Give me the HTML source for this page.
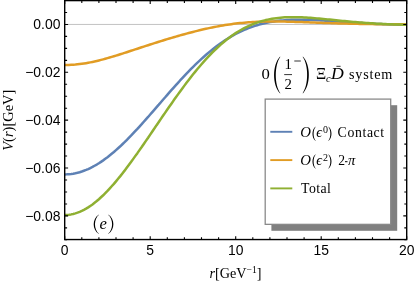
<!DOCTYPE html>
<html><head><meta charset="utf-8">
<style>
html,body{margin:0;padding:0;background:#fff;}
body{width:415px;height:285px;overflow:hidden;position:relative;}
svg{will-change:transform;position:absolute;left:0;top:0;display:block;}
.sans text{font-family:"Liberation Sans",sans-serif;font-size:13.9px;fill:#000;}
.serif{font-family:"Liberation Serif",serif;fill:#000;}
</style></head>
<body>
<svg width="415" height="285" viewBox="0 0 415 285">
<rect x="0" y="0" width="415" height="285" fill="#fff"/>
<!-- zero gridline -->
<line x1="64.7" y1="24.45" x2="406.7" y2="24.45" stroke="#a8a8a8" stroke-width="0.7"/>
<!-- curves -->
<g fill="none" stroke-width="2.5" stroke-linejoin="round" stroke-linecap="butt">
<path d="M64.7,174.39 L66.8,174.34 L69.0,174.21 L71.1,173.98 L73.2,173.67 L75.4,173.27 L77.5,172.78 L79.7,172.20 L81.8,171.53 L83.9,170.78 L86.1,169.95 L88.2,169.03 L90.3,168.03 L92.5,166.95 L94.6,165.78 L96.8,164.54 L98.9,163.23 L101.0,161.84 L103.2,160.37 L105.3,158.84 L107.5,157.23 L109.6,155.56 L111.7,153.83 L113.9,152.03 L116.0,150.17 L118.1,148.26 L120.3,146.29 L122.4,144.27 L124.6,142.20 L126.7,140.08 L128.8,137.92 L131.0,135.71 L133.1,133.47 L135.2,131.20 L137.4,128.89 L139.5,126.55 L141.7,124.18 L143.8,121.79 L145.9,119.39 L148.1,116.96 L150.2,114.52 L152.3,112.07 L154.5,109.60 L156.6,107.14 L158.8,104.67 L160.9,102.20 L163.0,99.73 L165.2,97.28 L167.3,94.83 L169.4,92.39 L171.6,89.96 L173.7,87.56 L175.9,85.17 L178.0,82.80 L180.1,80.46 L182.3,78.15 L184.4,75.87 L186.5,73.61 L188.7,71.39 L190.8,69.21 L192.9,67.07 L195.1,64.96 L197.2,62.89 L199.4,60.87 L201.5,58.89 L203.6,56.96 L205.8,55.07 L207.9,53.23 L210.1,51.44 L212.2,49.70 L214.3,48.01 L216.5,46.37 L218.6,44.79 L220.7,43.25 L222.9,41.77 L225.0,40.34 L227.1,38.97 L229.3,37.65 L231.4,36.38 L233.6,35.17 L235.7,34.01 L237.8,32.90 L240.0,31.84 L242.1,30.84 L244.2,29.88 L246.4,28.98 L248.5,28.13 L250.7,27.32 L252.8,26.57 L254.9,25.86 L257.1,25.20 L259.2,24.58 L261.4,24.00 L263.5,23.47 L265.6,22.98 L267.8,22.53 L269.9,22.12 L272.0,21.75 L274.2,21.41 L276.3,21.11 L278.4,20.84 L280.6,20.60 L282.7,20.40 L284.9,20.22 L287.0,20.07 L289.1,19.95 L291.3,19.85 L293.4,19.78 L295.6,19.73 L297.7,19.70 L299.8,19.69 L302.0,19.70 L304.1,19.72 L306.2,19.76 L308.4,19.82 L310.5,19.89 L312.6,19.97 L314.8,20.06 L316.9,20.17 L319.1,20.28 L321.2,20.40 L323.3,20.52 L325.5,20.65 L327.6,20.79 L329.8,20.93 L331.9,21.08 L334.0,21.23 L336.2,21.38 L338.3,21.53 L340.4,21.68 L342.6,21.83 L344.7,21.98 L346.8,22.13 L349.0,22.28 L351.1,22.43 L353.3,22.57 L355.4,22.71 L357.5,22.85 L359.7,22.99 L361.8,23.12 L363.9,23.24 L366.1,23.37 L368.2,23.49 L370.4,23.60 L372.5,23.71 L374.6,23.82 L376.8,23.92 L378.9,24.02 L381.1,24.11 L383.2,24.19 L385.3,24.28 L387.5,24.35 L389.6,24.43 L391.7,24.50 L393.9,24.56 L396.0,24.62 L398.1,24.67 L400.3,24.72 L402.4,24.77 L404.6,24.81 L406.7,24.85" stroke="#5e81b5"/>
<path d="M64.7,65.04 L66.8,65.02 L69.0,64.96 L71.1,64.86 L73.2,64.73 L75.4,64.56 L77.5,64.35 L79.7,64.10 L81.8,63.82 L83.9,63.50 L86.1,63.15 L88.2,62.77 L90.3,62.36 L92.5,61.92 L94.6,61.46 L96.8,60.96 L98.9,60.44 L101.0,59.90 L103.2,59.34 L105.3,58.76 L107.5,58.16 L109.6,57.54 L111.7,56.91 L113.9,56.27 L116.0,55.61 L118.1,54.95 L120.3,54.27 L122.4,53.59 L124.6,52.90 L126.7,52.21 L128.8,51.51 L131.0,50.81 L133.1,50.11 L135.2,49.41 L137.4,48.70 L139.5,48.00 L141.7,47.30 L143.8,46.60 L145.9,45.91 L148.1,45.21 L150.2,44.52 L152.3,43.84 L154.5,43.15 L156.6,42.48 L158.8,41.80 L160.9,41.14 L163.0,40.47 L165.2,39.82 L167.3,39.17 L169.4,38.52 L171.6,37.89 L173.7,37.25 L175.9,36.63 L178.0,36.01 L180.1,35.40 L182.3,34.80 L184.4,34.21 L186.5,33.62 L188.7,33.05 L190.8,32.48 L192.9,31.93 L195.1,31.38 L197.2,30.85 L199.4,30.32 L201.5,29.81 L203.6,29.31 L205.8,28.83 L207.9,28.36 L210.1,27.90 L212.2,27.45 L214.3,27.02 L216.5,26.61 L218.6,26.21 L220.7,25.82 L222.9,25.45 L225.0,25.10 L227.1,24.77 L229.3,24.45 L231.4,24.15 L233.6,23.86 L235.7,23.60 L237.8,23.35 L240.0,23.11 L242.1,22.90 L244.2,22.70 L246.4,22.52 L248.5,22.35 L250.7,22.20 L252.8,22.06 L254.9,21.95 L257.1,21.84 L259.2,21.75 L261.4,21.68 L263.5,21.61 L265.6,21.56 L267.8,21.53 L269.9,21.50 L272.0,21.49 L274.2,21.48 L276.3,21.49 L278.4,21.50 L280.6,21.53 L282.7,21.56 L284.9,21.60 L287.0,21.64 L289.1,21.69 L291.3,21.75 L293.4,21.81 L295.6,21.88 L297.7,21.95 L299.8,22.02 L302.0,22.09 L304.1,22.17 L306.2,22.25 L308.4,22.33 L310.5,22.41 L312.6,22.49 L314.8,22.57 L316.9,22.65 L319.1,22.73 L321.2,22.81 L323.3,22.89 L325.5,22.97 L327.6,23.04 L329.8,23.11 L331.9,23.19 L334.0,23.26 L336.2,23.32 L338.3,23.39 L340.4,23.45 L342.6,23.51 L344.7,23.57 L346.8,23.62 L349.0,23.68 L351.1,23.73 L353.3,23.78 L355.4,23.82 L357.5,23.87 L359.7,23.91 L361.8,23.95 L363.9,23.98 L366.1,24.02 L368.2,24.05 L370.4,24.08 L372.5,24.11 L374.6,24.14 L376.8,24.16 L378.9,24.19 L381.1,24.21 L383.2,24.23 L385.3,24.25 L387.5,24.26 L389.6,24.28 L391.7,24.29 L393.9,24.31 L396.0,24.32 L398.1,24.33 L400.3,24.34 L402.4,24.35 L404.6,24.36 L406.7,24.37" stroke="#e19c24"/>
<path d="M64.7,214.97 L66.8,214.91 L69.0,214.72 L71.1,214.40 L73.2,213.95 L75.4,213.37 L77.5,212.67 L79.7,211.85 L81.8,210.90 L83.9,209.84 L86.1,208.65 L88.2,207.36 L90.3,205.94 L92.5,204.42 L94.6,202.79 L96.8,201.06 L98.9,199.22 L101.0,197.29 L103.2,195.26 L105.3,193.15 L107.5,190.94 L109.6,188.65 L111.7,186.29 L113.9,183.85 L116.0,181.33 L118.1,178.75 L120.3,176.11 L122.4,173.41 L124.6,170.65 L126.7,167.84 L128.8,164.98 L131.0,162.07 L133.1,159.13 L135.2,156.15 L137.4,153.14 L139.5,150.10 L141.7,147.03 L143.8,143.95 L145.9,140.84 L148.1,137.72 L150.2,134.59 L152.3,131.45 L154.5,128.31 L156.6,125.16 L158.8,122.02 L160.9,118.89 L163.0,115.76 L165.2,112.64 L167.3,109.54 L169.4,106.46 L171.6,103.40 L173.7,100.36 L175.9,97.35 L178.0,94.37 L180.1,91.42 L182.3,88.50 L184.4,85.63 L186.5,82.79 L188.7,79.99 L190.8,77.24 L192.9,74.54 L195.1,71.89 L197.2,69.29 L199.4,66.74 L201.5,64.25 L203.6,61.82 L205.8,59.45 L207.9,57.14 L210.1,54.89 L212.2,52.70 L214.3,50.58 L216.5,48.53 L218.6,46.54 L220.7,44.62 L222.9,42.77 L225.0,41.00 L227.1,39.29 L229.3,37.65 L231.4,36.08 L233.6,34.58 L235.7,33.15 L237.8,31.79 L240.0,30.50 L242.1,29.28 L244.2,28.13 L246.4,27.05 L248.5,26.03 L250.7,25.07 L252.8,24.18 L254.9,23.35 L257.1,22.59 L259.2,21.88 L261.4,21.23 L263.5,20.63 L265.6,20.09 L267.8,19.61 L269.9,19.17 L272.0,18.78 L274.2,18.44 L276.3,18.15 L278.4,17.89 L280.6,17.68 L282.7,17.51 L284.9,17.37 L287.0,17.26 L289.1,17.19 L291.3,17.15 L293.4,17.14 L295.6,17.16 L297.7,17.20 L299.8,17.26 L302.0,17.34 L304.1,17.44 L306.2,17.56 L308.4,17.70 L310.5,17.85 L312.6,18.01 L314.8,18.18 L316.9,18.37 L319.1,18.56 L321.2,18.76 L323.3,18.96 L325.5,19.17 L327.6,19.38 L329.8,19.60 L331.9,19.81 L334.0,20.03 L336.2,20.25 L338.3,20.46 L340.4,20.68 L342.6,20.89 L344.7,21.10 L346.8,21.31 L349.0,21.51 L351.1,21.71 L353.3,21.90 L355.4,22.08 L357.5,22.27 L359.7,22.44 L361.8,22.61 L363.9,22.78 L366.1,22.94 L368.2,23.09 L370.4,23.23 L372.5,23.37 L374.6,23.51 L376.8,23.63 L378.9,23.75 L381.1,23.86 L383.2,23.97 L385.3,24.07 L387.5,24.17 L389.6,24.26 L391.7,24.34 L393.9,24.42 L396.0,24.49 L398.1,24.56 L400.3,24.62 L402.4,24.68 L404.6,24.73 L406.7,24.77" stroke="#8fb032"/>
</g>
<!-- legend -->
<rect x="271.4" y="105.2" width="125.8" height="125.6" fill="#808080"/>
<rect x="265.2" y="99.1" width="125.5" height="125.25" fill="#fff" stroke="#8a8a8a" stroke-width="1.3"/>
<g stroke-width="1.9" fill="none">
<line x1="270.3" y1="131.8" x2="292.3" y2="131.8" stroke="#5e81b5"/>
<line x1="270.3" y1="160.1" x2="292.3" y2="160.1" stroke="#e19c24"/>
<line x1="270.3" y1="188.4" x2="292.3" y2="188.4" stroke="#8fb032"/>
</g>
<g class="serif" font-size="13.8">
<text x="300.3" y="137.1" font-style="italic" font-size="14.8">O</text><path d="M315.40,126.80 C311.53,129.88 311.53,137.72 315.40,140.80 L315.80,140.80 C312.87,137.72 312.87,129.88 315.80,126.80 Z" fill="#000"/><text x="316.2" y="137.1" font-style="italic" font-size="14.2">ϵ</text><text x="322.9" y="133.0" font-size="10">0</text><path d="M328.60,126.80 C332.47,129.88 332.47,137.72 328.60,140.80 L328.20,140.80 C331.13,137.72 331.13,129.88 328.20,126.80 Z" fill="#000"/>
<text x="337.6" y="137.1" textLength="46.6" lengthAdjust="spacing">Contact</text>
<text x="300.3" y="164.7" font-style="italic" font-size="14.8">O</text><path d="M315.40,154.40 C311.53,157.48 311.53,165.32 315.40,168.40 L315.80,168.40 C312.87,165.32 312.87,157.48 315.80,154.40 Z" fill="#000"/><text x="316.2" y="164.7" font-style="italic" font-size="14.2">ϵ</text><text x="322.9" y="160.6" font-size="10">2</text><path d="M328.60,154.40 C332.47,157.48 332.47,165.32 328.60,168.40 L328.20,168.40 C331.13,165.32 331.13,157.48 328.20,154.40 Z" fill="#000"/>
<text x="338.2" y="164.7" font-size="13.6">2</text>
<line x1="345" y1="161.7" x2="347.5" y2="161.7" stroke="#000" stroke-width="1"/>
<text x="348.1" y="164.7" font-style="italic" font-size="14.6">π</text>
<text x="301.1" y="192.6" textLength="29.8" lengthAdjust="spacing">Total</text>
</g>
<!-- title -->
<g class="serif" font-size="14.8">
<text transform="translate(261.6,79) scale(1.13,1)">0</text>
<text x="284.5" y="69">1</text>
<text x="284.5" y="88.8">2</text>
<line x1="284.2" y1="74.6" x2="292" y2="74.6" stroke="#000" stroke-width="0.8"/>
<line x1="294.3" y1="61" x2="300.8" y2="61" stroke="#000" stroke-width="0.8"/>
<path d="M279.90,56.80 C272.17,64.81 272.17,85.19 279.90,93.20 L280.40,93.20 C274.27,85.19 274.27,64.81 280.40,56.80 Z" fill="#000"/>
<path d="M303.10,56.80 C310.83,64.81 310.83,85.19 303.10,93.20 L302.60,93.20 C308.73,85.19 308.73,64.81 302.60,56.80 Z" fill="#000"/>
<text x="316.1" y="79" font-size="15.8">Ξ</text>
<text x="326" y="82.1" font-size="10.4" font-style="italic">c</text>
<text transform="translate(331.0,79) scale(1.2,1.06)" font-style="italic">D</text>
<line x1="336.4" y1="66.3" x2="340.6" y2="66.3" stroke="#000" stroke-width="0.8"/>
<text x="349" y="79" font-size="14.2" textLength="43.4" lengthAdjust="spacing">system</text>
</g>
<!-- (e) -->
<path d="M98.60,214.80 C92.07,218.98 92.07,229.62 98.60,233.80 L99.05,233.80 C93.65,229.62 93.65,218.98 99.05,214.80 Z" fill="#000"/><path d="M108.50,214.80 C115.03,218.98 115.03,229.62 108.50,233.80 L108.05,233.80 C113.45,229.62 113.45,218.98 108.05,214.80 Z" fill="#000"/><text class="serif" x="99.6" y="228.5" font-size="16.6" font-style="italic">e</text>
<!-- frame -->
<rect x="64.7" y="0.6" width="342.0" height="238.95000000000002" fill="none" stroke="#000" stroke-width="1.4"/>
<path d="M64.70,239.55 v-3.4 M64.70,0.6 v3.4 M81.80,239.55 v-2.4 M81.80,0.6 v2.4 M98.90,239.55 v-2.4 M98.90,0.6 v2.4 M116.00,239.55 v-2.4 M116.00,0.6 v2.4 M133.10,239.55 v-2.4 M133.10,0.6 v2.4 M150.20,239.55 v-3.4 M150.20,0.6 v3.4 M167.30,239.55 v-2.4 M167.30,0.6 v2.4 M184.40,239.55 v-2.4 M184.40,0.6 v2.4 M201.50,239.55 v-2.4 M201.50,0.6 v2.4 M218.60,239.55 v-2.4 M218.60,0.6 v2.4 M235.70,239.55 v-3.4 M235.70,0.6 v3.4 M252.80,239.55 v-2.4 M252.80,0.6 v2.4 M269.90,239.55 v-2.4 M269.90,0.6 v2.4 M287.00,239.55 v-2.4 M287.00,0.6 v2.4 M304.10,239.55 v-2.4 M304.10,0.6 v2.4 M321.20,239.55 v-3.4 M321.20,0.6 v3.4 M338.30,239.55 v-2.4 M338.30,0.6 v2.4 M355.40,239.55 v-2.4 M355.40,0.6 v2.4 M372.50,239.55 v-2.4 M372.50,0.6 v2.4 M389.60,239.55 v-2.4 M389.60,0.6 v2.4 M406.70,239.55 v-3.4 M406.70,0.6 v3.4 M64.7,0.52 h2.4 M406.7,0.52 h-2.4 M64.7,12.48 h2.4 M406.7,12.48 h-2.4 M64.7,24.45 h3.4 M406.7,24.45 h-3.4 M64.7,36.41 h2.4 M406.7,36.41 h-2.4 M64.7,48.38 h2.4 M406.7,48.38 h-2.4 M64.7,60.34 h2.4 M406.7,60.34 h-2.4 M64.7,72.31 h3.4 M406.7,72.31 h-3.4 M64.7,84.28 h2.4 M406.7,84.28 h-2.4 M64.7,96.24 h2.4 M406.7,96.24 h-2.4 M64.7,108.20 h2.4 M406.7,108.20 h-2.4 M64.7,120.17 h3.4 M406.7,120.17 h-3.4 M64.7,132.13 h2.4 M406.7,132.13 h-2.4 M64.7,144.10 h2.4 M406.7,144.10 h-2.4 M64.7,156.06 h2.4 M406.7,156.06 h-2.4 M64.7,168.03 h3.4 M406.7,168.03 h-3.4 M64.7,180.00 h2.4 M406.7,180.00 h-2.4 M64.7,191.96 h2.4 M406.7,191.96 h-2.4 M64.7,203.93 h2.4 M406.7,203.93 h-2.4 M64.7,215.89 h3.4 M406.7,215.89 h-3.4 M64.7,227.85 h2.4 M406.7,227.85 h-2.4 M64.7,239.82 h2.4 M406.7,239.82 h-2.4" stroke="#000" stroke-width="1.1" fill="none"/>
<g class="sans">
<text x="60.4" y="29.2" text-anchor="end">0.00</text>
<text x="60.4" y="77.1" text-anchor="end">−0.02</text>
<text x="60.4" y="125.0" text-anchor="end">−0.04</text>
<text x="60.4" y="172.8" text-anchor="end">−0.06</text>
<text x="60.4" y="220.7" text-anchor="end">−0.08</text>
<text x="64.7" y="254.9" text-anchor="middle">0</text>
<text x="150.2" y="254.9" text-anchor="middle">5</text>
<text x="235.7" y="254.9" text-anchor="middle">10</text>
<text x="321.2" y="254.9" text-anchor="middle">15</text>
<text x="406.7" y="254.9" text-anchor="middle">20</text>
</g>
<!-- axis labels -->
<text class="serif" x="235.5" y="278.1" font-size="14.2" text-anchor="middle"><tspan font-style="italic">r</tspan>[GeV<tspan font-size="9.6" dy="-5.4">−1</tspan><tspan dy="5.4">]</tspan></text>
<text class="serif" font-size="14.5" text-anchor="middle" transform="translate(13.4,120.2) rotate(-90)"><tspan font-style="italic">V</tspan>(<tspan font-style="italic">r</tspan>)[GeV]</text>
</svg>
</body></html>
